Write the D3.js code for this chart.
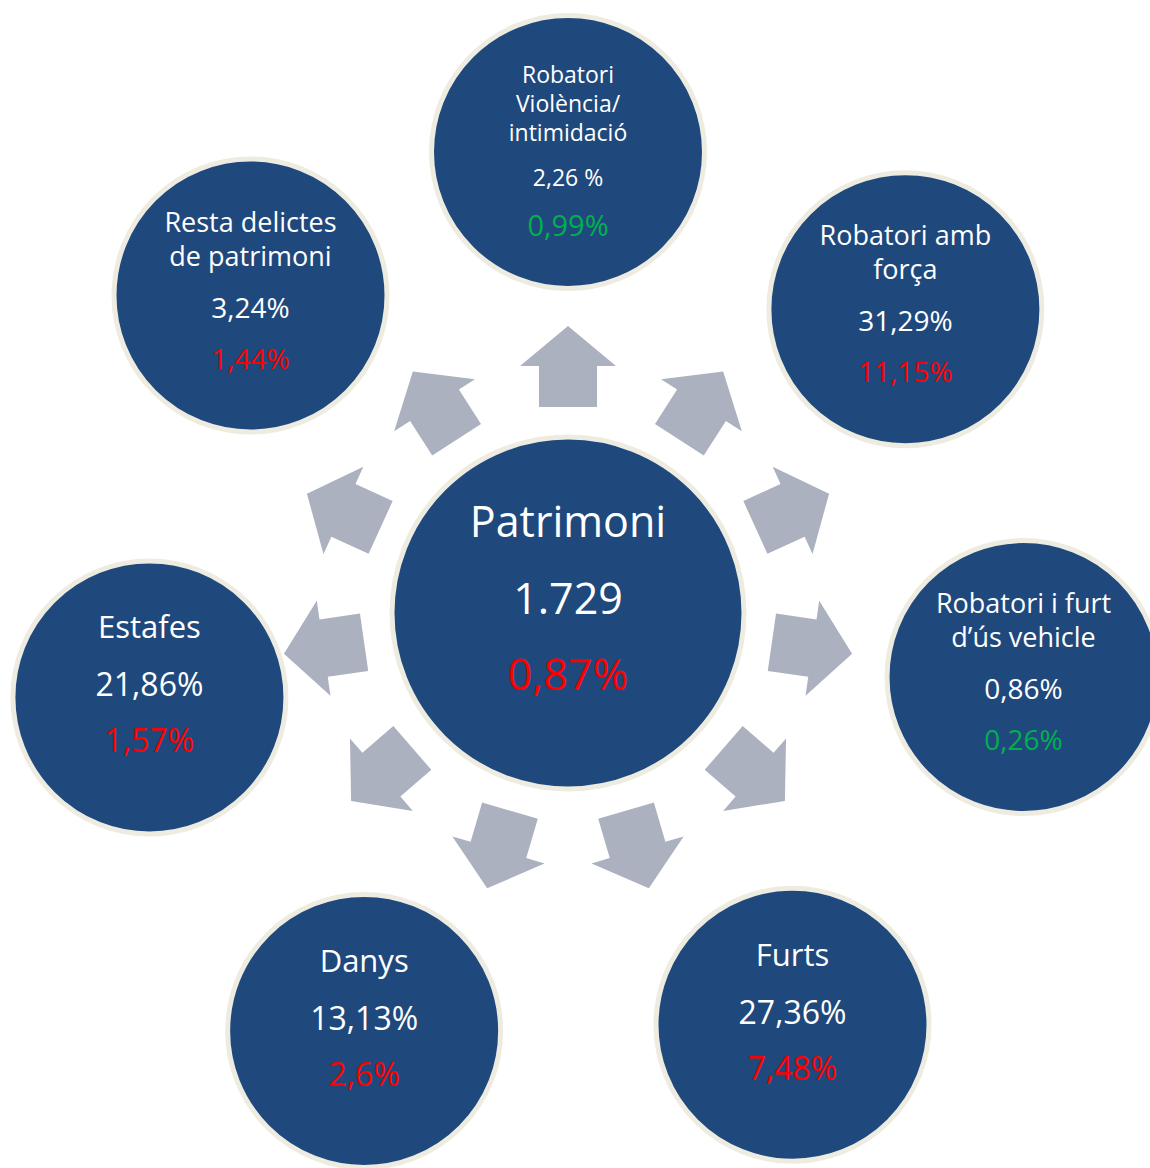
<!DOCTYPE html>
<html>
<head>
<meta charset="utf-8">
<script src="https://cdn.jsdelivr.net/npm/d3@7"></script>
<style>
  body { margin: 0; background: #fff; }
  svg { display: block; font-family: "Open Sans", "Noto Sans", sans-serif; }
</style>
</head>
<body>
<script>
// data
const centreLabel = "Patrimoni";
const centreTotal = 1729;
const centreChange = 0.87;

const categories = [
  ["Robatori", "Violència/", "intimidació"],
  ["Robatori amb", "força"],
  ["Robatori i furt", "d\u2019ús vehicle"],
  ["Furts"],
  ["Danys"],
  ["Estafes"],
  ["Resta delictes", "de patrimoni"]
];
const shares  = [2.26, 31.29, 0.86, 27.36, 13.13, 21.86, 3.24];
const shareUnits = [" %", "%", "%", "%", "%", "%", "%"];
const changes = [0.99, 11.15, 0.26, 7.48, 2.6, 1.57, 1.44];
const changeDir = ["down", "up", "down", "up", "up", "up", "up"];

// layout (polar placement of the satellites around the centre)
const nodeAngle = [-90, -42, 8, 61.4, 116, 168.6, -135];
const nodeDist  = [461, 454, 460, 469, 465, 427, 449];
const arrowCount = 11;

const W = 1150, H = 1168;
const cx = 568, cy = 613;
const blue = "#1f497d", rim = "#eeece1", arrowFill = "#abb1bf";
const red = "#ff0000", green = "#00b050";

const fmtNum = d3.formatLocale({decimal: ",", thousands: ".", grouping: [3], currency: ["", ""]});
const fmtPct = v => String(v).replace(".", ",");

const svg = d3.select("body").append("svg")
  .attr("width", W).attr("height", H);

// arrows
const angle = d3.scaleLinear().domain([0, arrowCount]).range([-90, 270]);
const rad = d3.scaleLinear().domain([0, 1]).range([206, 287]);
const headAt = 0.505, shaftHalf = 29, headHalf = 48;
const arrowPts = [
  [rad(0), -shaftHalf], [rad(headAt), -shaftHalf], [rad(headAt), -headHalf],
  [rad(1), 0],
  [rad(headAt), headHalf], [rad(headAt), shaftHalf], [rad(0), shaftHalf]
];
svg.append("g")
  .attr("transform", `translate(${cx},${cy})`)
  .selectAll("path")
  .data(d3.range(arrowCount))
  .join("path")
  .attr("d", d3.line()(arrowPts) + "Z")
  .attr("transform", d => `rotate(${angle(d)})`)
  .attr("fill", arrowFill);

// satellites
const nodes = categories.map((c, i) => {
  const a = nodeAngle[i] * Math.PI / 180;
  return {
    lines: c, share: shares[i], unit: shareUnits[i], change: changes[i], dir: changeDir[i],
    x: cx + nodeDist[i] * Math.cos(a), y: cy + nodeDist[i] * Math.sin(a)
  };
});

const styles = {
  1: {title: 31, share: 32, change: 32, tY: [-59], sY: -1, cY: 55},
  2: {title: 27, share: 28, change: 28, tY: [-64, -30], sY: 22, cY: 73},
  3: {title: 23, share: 23, change: 29, tY: [-69, -40, -11], sY: 34, cY: 84}
};

const g = svg.append("g").selectAll("g")
  .data(nodes).join("g")
  .attr("transform", d => `translate(${d.x},${d.y})`);

g.append("circle")
  .attr("r", 136.5)
  .attr("fill", blue)
  .attr("stroke", rim)
  .attr("stroke-width", 5);

g.each(function (d) {
  const s = styles[d.lines.length];
  const sel = d3.select(this);
  d.lines.forEach((t, k) => {
    sel.append("text")
      .attr("y", s.tY[k])
      .attr("text-anchor", "middle")
      .attr("fill", "#fff")
      .attr("font-size", s.title)
      .text(t);
  });
  sel.append("text")
    .attr("y", s.sY)
    .attr("text-anchor", "middle")
    .attr("fill", "#fff")
    .attr("font-size", s.share)
    .text(fmtPct(d.share) + d.unit);
  sel.append("text")
    .attr("y", s.cY)
    .attr("text-anchor", "middle")
    .attr("fill", d.dir === "up" ? red : green)
    .attr("font-size", s.change)
    .text(fmtPct(d.change) + "%");
});

// centre
const c = svg.append("g").attr("transform", `translate(${cx},${cy})`);
c.append("circle")
  .attr("r", 176)
  .attr("fill", blue)
  .attr("stroke", rim)
  .attr("stroke-width", 5);
c.append("text").attr("y", -76).attr("text-anchor", "middle")
  .attr("fill", "#fff").attr("font-size", 43).text(centreLabel);
c.append("text").attr("y", 1).attr("text-anchor", "middle")
  .attr("fill", "#fff").attr("font-size", 43).text(fmtNum.format(",")(centreTotal));
c.append("text").attr("y", 77).attr("text-anchor", "middle")
  .attr("fill", red).attr("font-size", 43).text(fmtPct(centreChange) + "%");
</script>
</body>
</html>
